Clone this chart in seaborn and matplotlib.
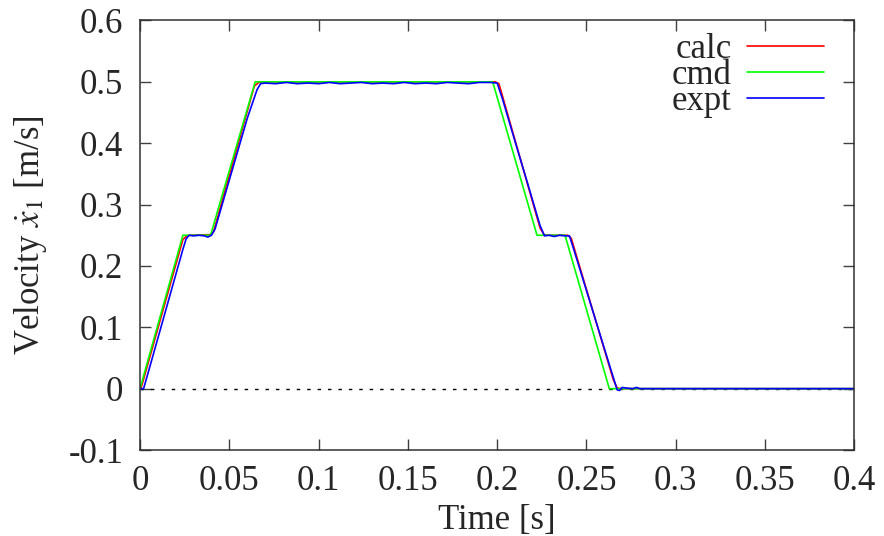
import seaborn as sns
import pandas as pd
import numpy as np
import matplotlib.pyplot as plt

# data (time [s], velocity [m/s])
cmd_t = [0.0, 0.0240, 0.0395, 0.0645, 0.1975, 0.2223, 0.2380, 0.2628, 0.4]
cmd_v = [0.0, 0.25, 0.25, 0.5, 0.5, 0.25, 0.25, 0.0, 0.0]

calc_t = [0.0, 0.0005, 0.0240, 0.0262, 0.0280, 0.0395, 0.0412, 0.0640, 0.0665, 0.0690,
          0.1990, 0.2010, 0.2240, 0.2262, 0.2285, 0.2395, 0.2415, 0.2650, 0.2672, 0.2700, 0.4]
calc_v = [0.0, 0.0, 0.243, 0.249, 0.250, 0.251, 0.256, 0.493, 0.499, 0.500,
          0.500, 0.497, 0.262, 0.251, 0.250, 0.250, 0.245, 0.015, 0.001, 0.0, 0.0]

expt_t = [0.0, 0.0020, 0.0060, 0.0120, 0.0180, 0.0240, 0.0258, 0.0275, 0.0300, 0.0330,
          0.0360, 0.0380, 0.0400, 0.0420, 0.0480, 0.0540, 0.0600, 0.0655, 0.0675, 0.0700,
          0.0760, 0.0820, 0.0880, 0.0940, 0.1000, 0.1060, 0.1120, 0.1180, 0.1240, 0.1300,
          0.1360, 0.1420, 0.1480, 0.1540, 0.1600, 0.1660, 0.1720, 0.1780, 0.1840, 0.1900,
          0.1960, 0.2000, 0.2030, 0.2100, 0.2170, 0.2240, 0.2265, 0.2290, 0.2320, 0.2350,
          0.2380, 0.2405, 0.2430, 0.2500, 0.2570, 0.2640, 0.2672, 0.2685, 0.2700, 0.2720,
          0.2760, 0.2780, 0.2800, 0.2850, 0.4]
expt_v = [0.0, 0.0, 0.041, 0.103, 0.165, 0.227, 0.244, 0.250, 0.249, 0.250,
          0.249, 0.247, 0.250, 0.260, 0.320, 0.380, 0.440, 0.487, 0.497, 0.498,
          0.497, 0.499, 0.497, 0.498, 0.497, 0.499, 0.497, 0.498, 0.499, 0.497,
          0.498, 0.497, 0.499, 0.497, 0.498, 0.497, 0.499, 0.498, 0.497, 0.499,
          0.499, 0.498, 0.472, 0.403, 0.335, 0.266, 0.249, 0.250, 0.248, 0.250,
          0.249, 0.249, 0.226, 0.160, 0.094, 0.028, -0.002, -0.003, 0.002, 0.001,
          0.000, 0.002, 0.000, 0.000, 0.0]

series = {"calc": (calc_t, calc_v), "cmd": (cmd_t, cmd_v), "expt": (expt_t, expt_v)}
colors = {"calc": "#ff0000", "cmd": "#00ff00", "expt": "#0000ff"}

rows = []
for name, (t, v) in series.items():
    for ti, vi in zip(t, v):
        rows.append({"t": ti, "v": vi, "series": name})
df = pd.DataFrame(rows)

sns.set_theme(style="ticks")
plt.rcParams["font.family"] = ["Liberation Serif", "DejaVu Serif"]
plt.rcParams["mathtext.fontset"] = "stix"
fs = 25

fig = plt.figure(figsize=(8.84, 5.36), dpi=100)
ax = fig.add_axes([0.1584, 0.1604, 0.808, 0.8014])

# zero axis (dotted)
ax.axhline(0, color="black", lw=1.0, ls=(0, (2.5, 5)), zorder=1)

sns.lineplot(data=df, x="t", y="v", hue="series", palette=colors,
             sort=False, estimator=None, lw=1.2, ax=ax, zorder=2)

ax.set_xlim(0, 0.4)
ax.set_ylim(-0.1, 0.6)
ax.set_xticks([0, 0.05, 0.1, 0.15, 0.2, 0.25, 0.3, 0.35, 0.4])
ax.set_xticklabels(["0", "0.05", "0.1", "0.15", "0.2", "0.25", "0.3", "0.35", "0.4"])
ax.set_yticks([-0.1, 0, 0.1, 0.2, 0.3, 0.4, 0.5, 0.6])
ax.set_yticklabels(["-0.1", "0", "0.1", "0.2", "0.3", "0.4", "0.5", "0.6"])
ax.tick_params(direction="in", length=8, width=1, labelsize=fs,
               top=True, right=True, color="#404040")
ax.tick_params(axis="x", pad=11)
ax.tick_params(axis="y", pad=12)
for s in ax.spines.values():
    s.set_linewidth(1.1)
    s.set_color("#303030")

ax.set_xlabel("Time [s]", fontsize=fs, labelpad=4)
ax.set_ylabel(r"Velocity $\dot{x}_1$ [m/s]", fontsize=fs, labelpad=14)

handles, labels = ax.get_legend_handles_labels()
ax.legend(handles, labels, loc="upper right", bbox_to_anchor=(0.932, 0.939),
          bbox_transform=fig.transFigure, frameon=False, markerfirst=False,
          fontsize=fs, handlelength=2.2, handletextpad=0.45, labelspacing=-0.2,
          borderpad=0, borderaxespad=0)

fig.savefig("out.png", dpi=100)
